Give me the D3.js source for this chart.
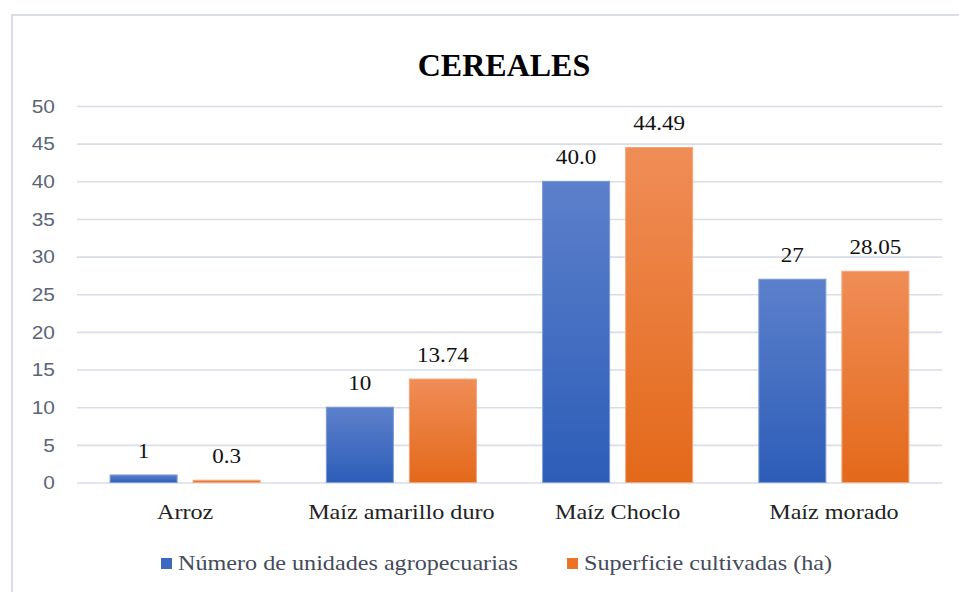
<!DOCTYPE html>
<html>
<head>
<meta charset="utf-8">
<script src="https://cdn.jsdelivr.net/npm/d3@7"></script>
<style>
  body { margin: 0; background: #fff; }
  svg { display: block; }
</style>
</head>
<body>
<script>
// chart data
var categories = ["Arroz", "Maíz amarillo duro", "Maíz Choclo", "Maíz morado"];
var seriesNames = ["Número de unidades agropecuarias", "Superficie cultivadas (ha)"];
var unidades = [1, 10, 40, 27];
var superficie = [0.3, 13.74, 44.49, 28.05];
var unidadesLabels = ["1", "10", "40.0", "27"];
var superficieLabels = ["0.3", "13.74", "44.49", "28.05"];
var yTicks = [0, 5, 10, 15, 20, 25, 30, 35, 40, 45, 50];

var width = 959, height = 592;
var plot = {left: 77, right: 942, top: 106, bottom: 482.5};
var serif = "'Liberation Serif', 'Times New Roman', serif";
var stretch = 1.15;

var svg = d3.select("body").append("svg")
    .attr("width", width)
    .attr("height", height);

// widen text a bit, the source picture is stretched horizontally
function widen(sel, k) {
  sel.each(function() {
    var w = this.getComputedTextLength();
    d3.select(this).attr("textLength", w * k).attr("lengthAdjust", "spacingAndGlyphs");
  });
}

// gradients
var defs = svg.append("defs");
var grads = [["gBlue", "#5c80cb", "#2d5db8"], ["gOrange", "#f08d57", "#e3691a"]];
grads.forEach(function(g) {
  var lg = defs.append("linearGradient").attr("id", g[0])
      .attr("x1", 0).attr("y1", 0).attr("x2", 0).attr("y2", 1);
  lg.append("stop").attr("offset", "0%").attr("stop-color", g[1]);
  lg.append("stop").attr("offset", "100%").attr("stop-color", g[2]);
});

// chart border
svg.append("rect")
    .attr("x", 12).attr("y", 15)
    .attr("width", 1000).attr("height", 1000)
    .attr("fill", "none")
    .attr("stroke", "#d9dde4")
    .attr("stroke-width", 2);

// title
svg.append("text")
    .attr("x", 504).attr("y", 76)
    .attr("text-anchor", "middle")
    .style("font-family", serif)
    .style("font-weight", "bold")
    .style("font-size", "32px")
    .attr("fill", "#000")
    .text("CEREALES");

var x0 = d3.scaleBand()
    .domain(categories)
    .range([plot.left, plot.right])
    .paddingInner(0.306)
    .paddingOuter(0.153);

var x1 = d3.scaleBand()
    .domain([0, 1])
    .range([0, x0.bandwidth()])
    .paddingInner(0.193);

var y = d3.scaleLinear()
    .domain([0, 50])
    .range([plot.bottom, plot.top]);

// grid lines
svg.append("g")
    .attr("transform", "translate(" + plot.left + ",0)")
    .call(d3.axisLeft(y).tickValues(yTicks).tickSize(-(plot.right - plot.left)).tickFormat(""))
    .call(function(g) {
      g.select(".domain").remove();
      g.selectAll("line").attr("stroke", "#d9dde5").attr("stroke-width", 1.6);
    });

// y labels
var yl = svg.append("g").selectAll("text")
    .data(yTicks)
    .enter().append("text")
      .attr("x", 55)
      .attr("y", function(d) { return y(d); })
      .attr("dy", "0.36em")
      .attr("text-anchor", "end")
      .style("font-family", "'Liberation Sans', Arial, sans-serif")
      .style("font-size", "19px")
      .attr("fill", "#5b6577")
      .text(function(d) { return d; });
widen(yl, 1.1);

var series = [
  {values: unidades, labels: unidadesLabels, fill: "url(#gBlue)", stroke: "#7d9bd8"},
  {values: superficie, labels: superficieLabels, fill: "url(#gOrange)", stroke: "#f5a57a"}
];

series.forEach(function(s, si) {
  svg.append("g").selectAll("rect")
      .data(s.values)
      .enter().append("rect")
        .attr("x", function(d, i) { return x0(categories[i]) + x1(si); })
        .attr("y", function(d) { return y(d); })
        .attr("width", x1.bandwidth())
        .attr("height", function(d) { return y(0) - y(d); })
        .attr("fill", s.fill)
        .attr("stroke", s.stroke)
        .attr("stroke-width", 1);

  var lab = svg.append("g").selectAll("text")
      .data(s.values)
      .enter().append("text")
        .attr("x", function(d, i) { return x0(categories[i]) + x1(si) + x1.bandwidth() / 2; })
        .attr("y", function(d) { return y(d) - 17; })
        .attr("text-anchor", "middle")
        .style("font-family", serif)
        .style("font-size", "21px")
        .attr("fill", "#111")
        .text(function(d, i) { return s.labels[i]; });
  widen(lab, 1.1);
});

// category labels
var cl = svg.append("g").selectAll("text")
    .data(categories)
    .enter().append("text")
      .attr("x", function(d) { return x0(d) + x0.bandwidth() / 2; })
      .attr("y", 519)
      .attr("text-anchor", "middle")
      .style("font-family", serif)
      .style("font-size", "21px")
      .attr("fill", "#222")
      .text(function(d) { return d; });
widen(cl, stretch);

// legend
var legendX = [161, 567];
var legendColors = ["#3d68c0", "#ec7326"];
seriesNames.forEach(function(name, i) {
  svg.append("rect")
      .attr("x", legendX[i]).attr("y", 558)
      .attr("width", 11).attr("height", 11)
      .attr("fill", legendColors[i]);
  var t = svg.append("text")
      .attr("x", legendX[i] + 17).attr("y", 570)
      .style("font-family", serif)
      .style("font-size", "21px")
      .attr("fill", "#454b5a")
      .text(name);
  widen(t, stretch);
});
</script>
</body>
</html>
